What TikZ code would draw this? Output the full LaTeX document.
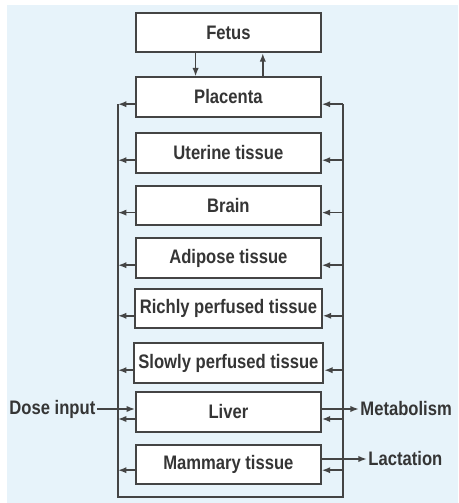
\documentclass[tikz,border=0pt]{standalone}
\usepackage{fontspec}
\newfontfamily\boxfont{Liberation Sans}[FakeStretch=0.85]
\usepackage{xcolor}
\usepackage{tikz}
\usetikzlibrary{arrows.meta}
\definecolor{paleblue}{HTML}{E7F3FA}
\definecolor{ink}{HTML}{353535}
\definecolor{rim}{HTML}{444444}
\tikzset{
  organ/.style={draw=rim,line width=1.4pt,fill=white,text=ink,minimum width=4.62cm,minimum height=0.98cm,inner xsep=0.12cm,font={\boxfont\bfseries\fontsize{13.9}{15}\selectfont}},
  flow/.style={->,rim,line width=1.1pt},
  tag/.style={text=ink,inner sep=1pt,font={\boxfont\bfseries\fontsize{13.9}{15}\selectfont}}
}

\begin{document}
\begin{tikzpicture}[>={Latex[length=6pt,width=4.5pt]}]
  \useasboundingbox (0,0) rectangle (11.45,12.575);
  \fill[paleblue] (0.175,0) rectangle (11.45,12.45);
  \node[organ] (fetus) at (5.71,11.76) {Fetus};
  \node[organ] (placenta) at (5.71,10.15) {Placenta};
  \node[organ] (uterine) at (5.71,8.75) {Uterine tissue};
  \node[organ] (brain) at (5.71,7.44) {Brain};
  \node[organ] (adipose) at (5.71,6.125) {Adipose tissue};
  \node[organ] (richly) at (5.71,4.86) {Richly perfused tissue};
  \node[organ] (slowly) at (5.71,3.5) {Slowly perfused tissue};
  \node[organ] (liver) at (5.71,2.275) {Liver};
  \node[organ] (mammary) at (5.71,0.96) {Mammary tissue};
  \coordinate (bl) at (2.95,0.15);
  \coordinate (br) at (8.575,0.15);
  \draw[flow] ([xshift=-0.82cm]fetus.south) -- ([xshift=-0.82cm]placenta.north);
  \draw[flow] ([xshift=0.86cm]placenta.north) -- ([xshift=0.86cm]fetus.south);
  % circulation loop
  \draw[rim,line width=1.1pt] ([yshift=-0.18cm]placenta.west -| bl) -- (bl) -- (br) -- ([yshift=-0.18cm]placenta.east -| br);
  \foreach \n in {placenta,uterine,brain,adipose,richly,slowly}{
    \draw[flow] ([yshift=-0.18cm]\n.west) -- ([yshift=-0.18cm]\n.west -| bl);
    \draw[flow] ([yshift=-0.18cm]\n.east -| br) -- ([yshift=-0.18cm]\n.east);
  }
  \draw[flow] ([yshift=-0.175cm]liver.west) -- ([yshift=-0.175cm]liver.west -| bl);
  \draw[flow] ([yshift=-0.175cm]liver.east -| br) -- ([yshift=-0.175cm]liver.east);
  \draw[flow] ([yshift=-0.14cm]mammary.west) -- ([yshift=-0.14cm]mammary.west -| bl);
  \draw[flow] ([yshift=-0.14cm]mammary.east -| br) -- ([yshift=-0.14cm]mammary.east);
  % inputs and outputs
  \node[tag,anchor=east] (dose) at (2.425,2.35) {Dose input};
  \node[tag,anchor=west] (metab) at (8.97,2.35) {Metabolism};
  \node[tag,anchor=west] (lact) at (9.17,1.1) {Lactation};
  \draw[flow] (dose.east) -- (dose.east -| liver.west);
  \draw[flow] (liver.east |- metab.west) -- (metab.west);
  \draw[flow] (mammary.east |- lact.west) -- (lact.west);
\end{tikzpicture}
\end{document}
